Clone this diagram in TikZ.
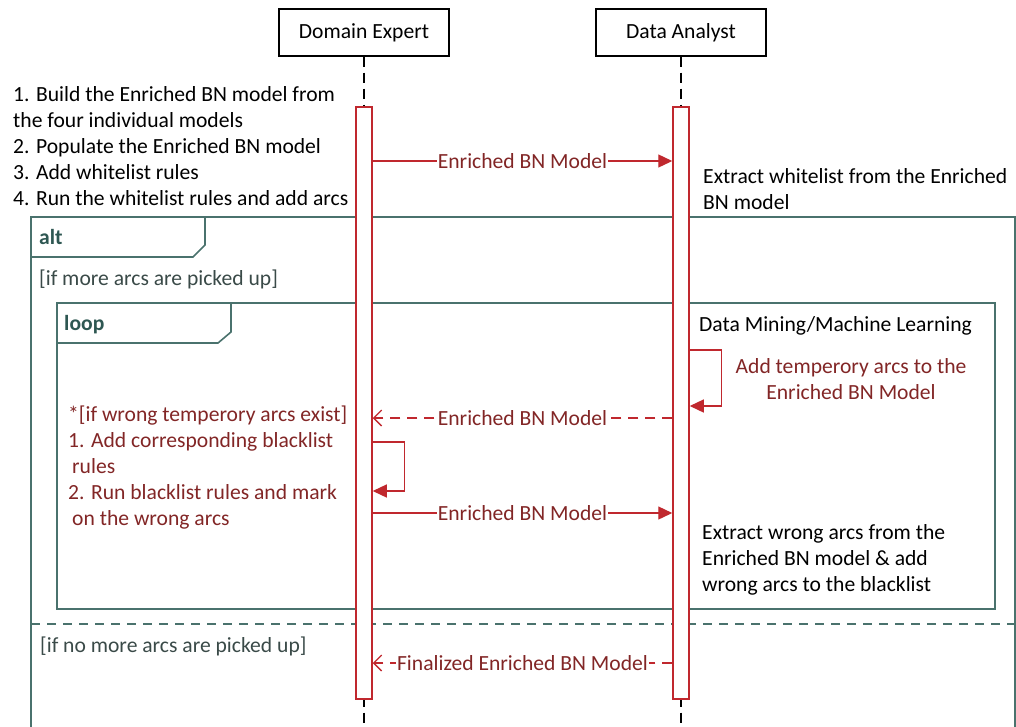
\documentclass[tikz,border=0pt]{standalone}
\usepackage{fontspec}
\setmainfont{Carlito}
\usetikzlibrary{arrows.meta}
\definecolor{actred}{HTML}{C0282E}
\definecolor{msgred}{HTML}{822626}
\definecolor{frameteal}{HTML}{4A726D}
\definecolor{labelteal}{HTML}{2E5752}
\definecolor{guardgray}{HTML}{3A4A48}
\begin{document}
\begin{tikzpicture}[x=1pt,y=-1pt,
  base/.style={font=\fontsize{21.6}{26}\selectfont},
  txt/.style={base, inner sep=0pt, anchor=north west, align=left},
  line/.style={base, inner sep=0pt, anchor=base west},
  actor/.style={base, draw=black, line width=1.3pt, minimum width=170pt, minimum height=47pt, inner sep=0pt},
  lifeline/.style={draw=black, line width=1.2pt, dash pattern=on 10pt off 6pt},
  activation/.style={draw=actred, fill=white, line width=1.5pt, minimum width=16pt, minimum height=592pt, inner sep=0pt},
  frame/.style={draw=frameteal, line width=1.6pt},
  framelabel/.style={line, font=\fontsize{21.6}{26}\selectfont\bfseries, text=labelteal},
  msg/.style={draw=actred, line width=1.3pt, -{Triangle[length=14pt,width=13pt]}},
  ret/.style={draw=actred, line width=1.3pt, dash pattern=on 10pt off 7pt, -{Straight Barb[length=8pt,width=16pt,line width=1.3pt]}},
  lbl/.style={base, fill=white, inner xsep=1pt, inner ysep=1pt, text=msgred}]
\useasboundingbox (0,0) rectangle (1016,726);
\clip (0,0) rectangle (1016,726);

% combined fragments
\draw[frame] (31,740) -- (31,217) -- (1015,217) -- (1015,740);
\draw[frame] (31,257) -- (193,257) -- (205,245) -- (205,217);
\draw[frame] (57,303) rectangle (995,609);
\draw[frame] (57,343) -- (218,343) -- (231,332) -- (231,303);
\draw[frame, dash pattern=on 9pt off 7pt] (31,624) -- (1015,624);

\node[framelabel] (altlbl) at (39,244) {alt};
\node[line, text=guardgray] (guard1) at (39,285) {[if more arcs are picked up]};
\node[framelabel] (looplbl) at (64,330) {loop};
\node[line, text=guardgray] (guard2) at (40,652) {[if no more arcs are picked up]};

% participants and lifelines
\node[actor] (de) at (364,32.5) {Domain Expert};
\node[actor] (da) at (681,32.5) {Data Analyst};
\coordinate (deend) at (364,730);
\coordinate (daend) at (681,730);
\draw[lifeline] (de.south) -- (deend);
\draw[lifeline] (da.south) -- (daend);
\node[activation] (actde) at (364,403) {};
\node[activation] (actda) at (681,403) {};

% notes
\node[txt] (prep) at (13,82.8) {\strut 1. Build the Enriched BN model from\\the four individual models\\2. Populate the Enriched BN model\\3. Add whitelist rules\\4. Run the whitelist rules and add arcs};
\node[txt] (white) at (703,164.8) {\strut Extract whitelist from the Enriched\\BN model};
\node[line] (dmml) at (699,331) {Data Mining/Machine Learning};
\node[txt, anchor=north, align=center, text=msgred] (temp) at (851,354.8) {\strut Add temperory arcs to the\\Enriched BN Model};
\node[txt, text=msgred] (black) at (68,402.8) {\strut *[if wrong temperory arcs exist]\\1. Add corresponding blacklist\\\hspace*{4pt}rules\\2. Run blacklist rules and mark\\\hspace*{4pt}on the wrong arcs};
\node[txt] (wrong) at (702,520.8) {\strut Extract wrong arcs from the\\Enriched BN model \& add\\wrong arcs to the blacklist};

% messages
\draw[msg] (actde.east |- 0,161) -- node[lbl] (m1) {Enriched BN Model} (actda.west |- 0,161);
\draw[msg] (actda.east |- 0,350) -- ++(32,0) |- (actda.east |- 0,406);
\draw[ret] (actda.west |- 0,418) -- node[lbl] (m2) {Enriched BN Model} (actde.east |- 0,418);
\draw[msg] (actde.east |- 0,442) -- ++(32,0) |- (actde.east |- 0,491);
\draw[msg] (actde.east |- 0,513) -- node[lbl] (m3) {Enriched BN Model} (actda.west |- 0,513);
\draw[ret] (actda.west |- 0,663) -- node[lbl] (m4) {Finalized Enriched BN Model} (actde.east |- 0,663);
\end{tikzpicture}
\end{document}
